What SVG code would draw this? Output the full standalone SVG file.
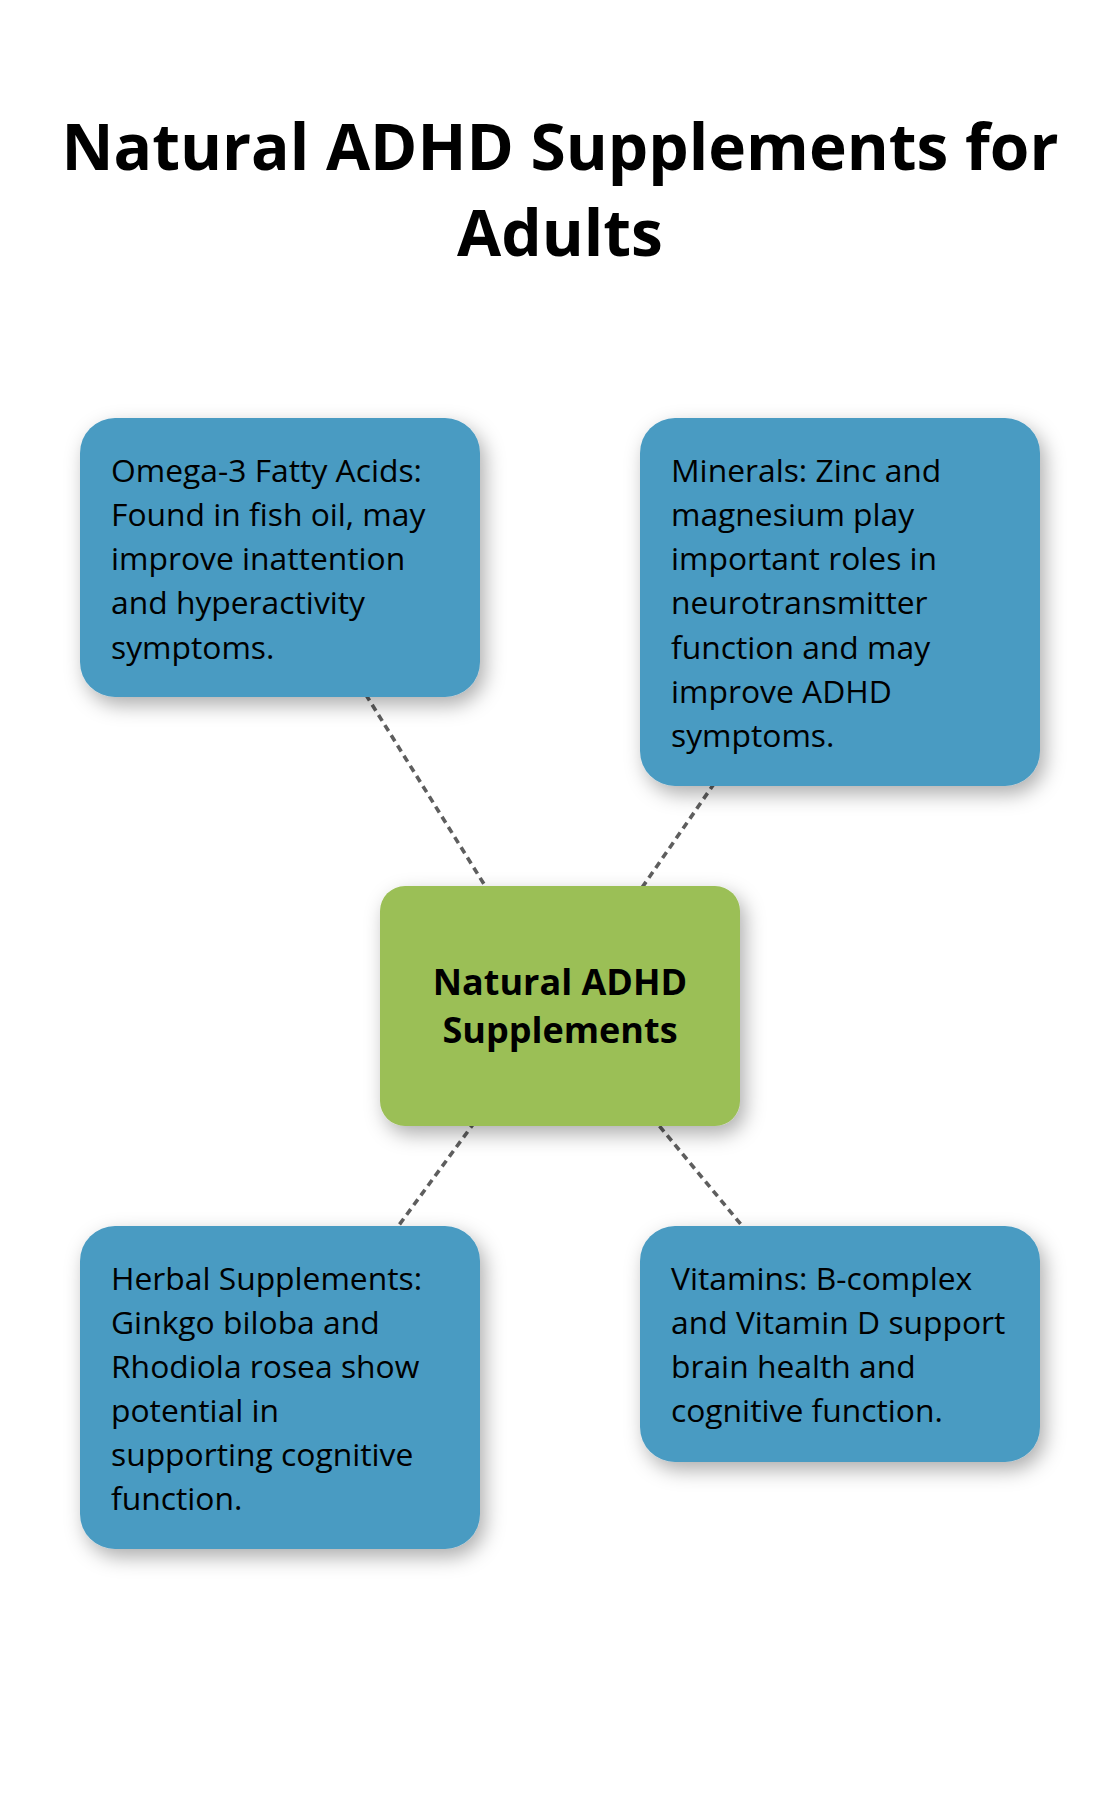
<svg xmlns="http://www.w3.org/2000/svg" width="1120" height="1810" viewBox="0 0 1120 1810">
<style>
.title{font-family:"Open Sans","Liberation Sans",sans-serif;font-weight:700;font-size:64px;fill:#000;text-anchor:middle}
.body{font-family:"Open Sans","Liberation Sans",sans-serif;font-size:31.8px;fill:#000}
.center{font-family:"Open Sans","Liberation Sans",sans-serif;font-weight:700;font-size:36px;fill:#000;text-anchor:middle}
.blue{fill:#4a9bc2;filter:url(#sh)}
.green{fill:#9bbf57;filter:url(#sh)}
.conn{stroke:#5e5e5e;stroke-width:3.6;stroke-dasharray:7 5;fill:none}
</style>
<defs>
<filter id="sh" x="-20%" y="-20%" width="150%" height="150%">
<feDropShadow dx="5" dy="8" stdDeviation="10" flood-color="#000" flood-opacity="0.32"/>
</filter>
</defs>
<rect width="1120" height="1810" fill="#ffffff"/>
<g id="title">
<text class="title" x="560" y="170">Natural ADHD Supplements for</text>
<text class="title" x="560" y="256">Adults</text>
</g>
<g id="connectors">
<line class="conn" x1="560" y1="1006" x2="280" y2="557"/>
<line class="conn" x1="560" y1="1006" x2="840" y2="602"/>
<line class="conn" x1="560" y1="1006" x2="280" y2="1387"/>
<line class="conn" x1="560" y1="1006" x2="840" y2="1344"/>
</g>
<g id="omega">
<rect class="blue" x="80" y="418" width="400" height="279" rx="35"/>
<text class="body" x="111" y="482">Omega-3 Fatty Acids:</text>
<text class="body" x="111" y="526">Found in fish oil, may</text>
<text class="body" x="111" y="570">improve inattention</text>
<text class="body" x="111" y="614">and hyperactivity</text>
<text class="body" x="111" y="659">symptoms.</text>
</g>
<g id="minerals">
<rect class="blue" x="640" y="418" width="400" height="368" rx="35"/>
<text class="body" x="671" y="482">Minerals: Zinc and</text>
<text class="body" x="671" y="526">magnesium play</text>
<text class="body" x="671" y="570">important roles in</text>
<text class="body" x="671" y="614">neurotransmitter</text>
<text class="body" x="671" y="659">function and may</text>
<text class="body" x="671" y="703">improve ADHD</text>
<text class="body" x="671" y="747">symptoms.</text>
</g>
<g id="center-node">
<rect class="green" x="380" y="886" width="360" height="240" rx="25"/>
<text class="center" x="560" y="995">Natural ADHD</text>
<text class="center" x="560" y="1043">Supplements</text>
</g>
<g id="herbal">
<rect class="blue" x="80" y="1226" width="400" height="323" rx="35"/>
<text class="body" x="111" y="1290">Herbal Supplements:</text>
<text class="body" x="111" y="1334">Ginkgo biloba and</text>
<text class="body" x="111" y="1378">Rhodiola rosea show</text>
<text class="body" x="111" y="1422">potential in</text>
<text class="body" x="111" y="1466">supporting cognitive</text>
<text class="body" x="111" y="1510">function.</text>
</g>
<g id="vitamins">
<rect class="blue" x="640" y="1226" width="400" height="236" rx="35"/>
<text class="body" x="671" y="1290">Vitamins: B-complex</text>
<text class="body" x="671" y="1334">and Vitamin D support</text>
<text class="body" x="671" y="1378">brain health and</text>
<text class="body" x="671" y="1422">cognitive function.</text>
</g>
</svg>
